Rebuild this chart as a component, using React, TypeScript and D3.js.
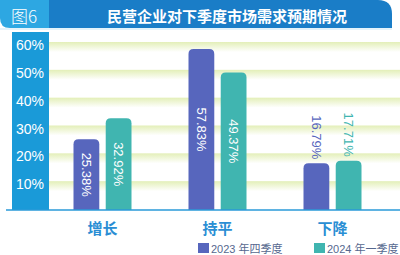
import React from "react";
import * as d3 from "d3";

const categories = ["增长", "持平", "下降"];
const seriesNames = ["2023 年四季度", "2024 年一季度"];
const values2023Q4 = [25.38, 57.83, 16.79];
const values2024Q1 = [32.92, 49.37, 17.71];
const yTicks = [10, 20, 30, 40, 50, 60];
const colors = ["#5766bd", "#40b5b0"];
const title = "民营企业对下季度市场需求预期情况";
const figLabel = "图6";

const W = 400;
const H = 255;

function topRoundedRect(x: number, y: number, w: number, h: number, r: number) {
  const rr = Math.min(r, w / 2, h);
  return `M${x},${y + h}V${y + rr}Q${x},${y} ${x + rr},${y}H${x + w - rr}Q${x + w},${y} ${x + w},${y + rr}V${y + h}Z`;
}

export default function App() {
  const font = "'Liberation Sans', Arial, 'Noto Sans CJK SC', sans-serif";
  const cjk = "'Noto Sans CJK SC', sans-serif";
  const y = d3.scaleLinear().domain([0, 60]).range([210, 43]);
  const x = d3.scaleBand<string>().domain(categories).range([45, 390]).padding(0);
  const inner = d3.scaleBand<string>().domain(seriesNames).range([-29, 29]).paddingInner(0.2).paddingOuter(0);
  const series = [values2023Q4, values2024Q1];

  return (
    <div style={{ position: "fixed", left: 0, top: 0, width: W, height: H, background: "#fff" }}>
      <svg width={W} height={H} style={{ display: "block" }}>
        <defs>
          <linearGradient id="band" x1="0" y1="0" x2="0" y2="1">
            <stop offset="0" stopColor="#e3efb8" />
            <stop offset="1" stopColor="#ffffff" />
          </linearGradient>
        </defs>
        {/* header */}
        <path d={`M49,0H378Q392,0 392,14V28H49Z`} fill="#1a7dc7" />
        <path d={`M0,0H49V28H10Q0,28 0,18Z`} fill="#2da7e2" />
        <text x={24} y={15} textAnchor="middle" dominantBaseline="central" fill="#fff" fontSize={17} fontWeight={300} fontFamily={cjk}>{figLabel}</text>
        <text x={227} y={15} textAnchor="middle" dominantBaseline="central" fill="#fff" fontSize={15} fontWeight="bold" fontFamily={cjk}>{title}</text>
        <rect x={0} y={28} width={392} height={2} fill="#e4f3fb" />

        {/* grid bands */}
        {yTicks.map((t) => (
          <rect key={t} x={49} y={y(t) - 1} width={W - 49} height={10} fill="url(#band)" />
        ))}

        {/* axis panel */}
        <rect x={12} y={32} width={37} height={y(0) - 32} fill="#1a9ad8" />
        {yTicks.map((t) => (
          <text key={t} x={30} y={y(t) + 2} textAnchor="middle" dominantBaseline="central" fill="#fff" fontSize={14} fontFamily={font}>{`${t}%`}</text>
        ))}

        {/* bars */}
        {categories.map((c, i) => {
          const cx = (x(c) as number) + x.bandwidth() / 2;
          return (
            <g key={c}>
              {series.map((vals, si) => {
                const bx = cx + (inner(seriesNames[si]) as number);
                const bw = inner.bandwidth();
                const v = vals[i];
                const top = y(v);
                const mid = bx + bw / 2;
                const outside = v < 20;
                const label = `${v.toFixed(2)}%`;
                return (
                  <g key={si}>
                    <path d={topRoundedRect(bx, top, bw, y(0) - top, 5)} fill={colors[si]} />
                    {outside ? (
                      <text transform={`translate(${mid},${top - 4}) rotate(90)`} textAnchor="end" dominantBaseline="central" fill={colors[si]} fontSize={13} fontFamily={font}>{label}</text>
                    ) : (
                      <text transform={`translate(${mid},${(top + y(0)) / 2}) rotate(90)`} textAnchor="middle" dominantBaseline="central" fill="#fff" fontSize={13} fontFamily={font}>{label}</text>
                    )}
                  </g>
                );
              })}
              <text x={cx} y={227} textAnchor="middle" dominantBaseline="central" fill="#2a8ed4" fontSize={15} fontWeight="bold" fontFamily={cjk}>{c}</text>
            </g>
          );
        })}

        {/* baseline */}
        <line x1={6} x2={W} y1={y(0)} y2={y(0)} stroke="#2a9ad8" strokeWidth={1.5} />

        {/* legend */}
        {seriesNames.map((s, i) => {
          const lx = i === 0 ? 198 : 314;
          return (
            <g key={s}>
              <rect x={lx} y={243} width={11} height={10} fill={colors[i]} />
              <text x={lx + 13} y={248.5} dominantBaseline="central" fill="#56688f" fontSize={11} fontFamily={font}>{s}</text>
            </g>
          );
        })}
      </svg>
    </div>
  );
}
